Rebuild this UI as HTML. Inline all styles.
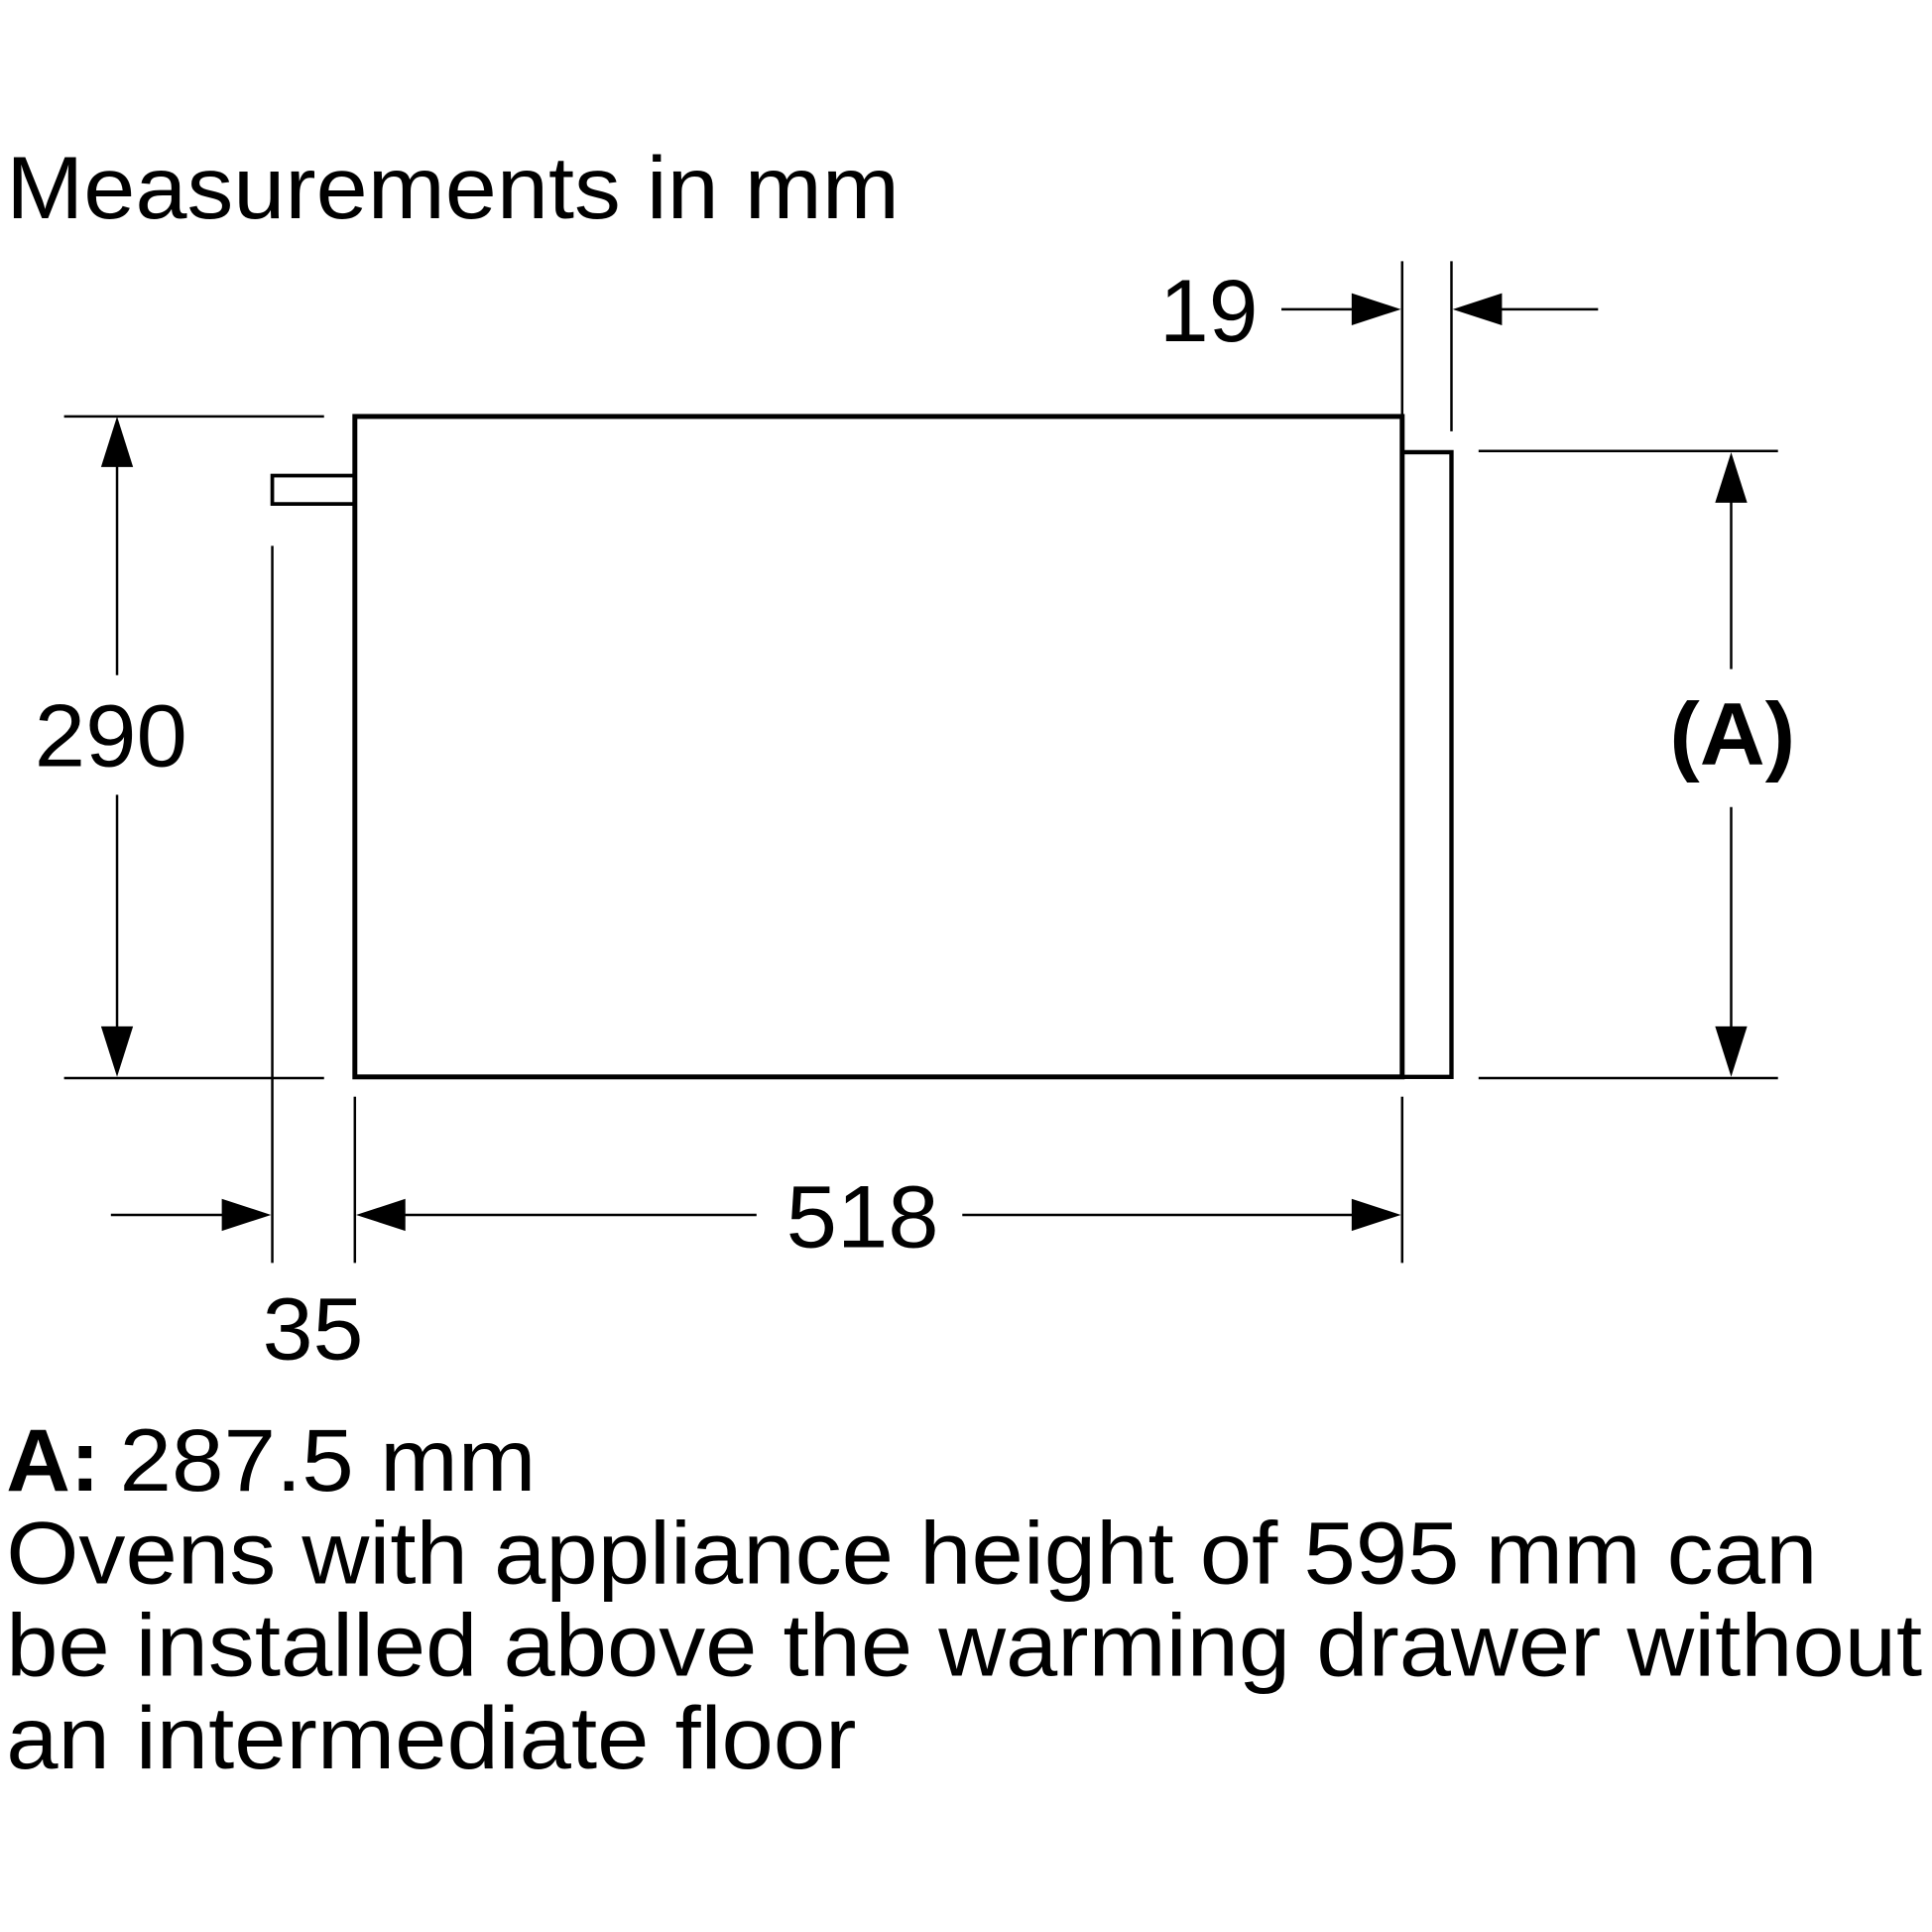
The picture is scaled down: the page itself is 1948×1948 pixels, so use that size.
<!DOCTYPE html>
<html><head><meta charset="utf-8"><style>html,body{margin:0;padding:0;background:#fff}svg{display:block}</style></head>
<body>
<svg width="1948" height="1948" viewBox="0 0 1568 1568" xmlns="http://www.w3.org/2000/svg" font-family="Liberation Sans, Arial, sans-serif" fill="#000">
<g font-size="72">
<text x="5" y="177" textLength="725" lengthAdjust="spacingAndGlyphs">Measurements in mm</text>
<text x="941" y="277" textLength="80" lengthAdjust="spacingAndGlyphs">19</text>
<text x="28" y="622" textLength="124" lengthAdjust="spacingAndGlyphs">290</text>
<text x="1355" y="620" textLength="102" lengthAdjust="spacingAndGlyphs" font-weight="bold">(A)</text>
<text x="638" y="1012" textLength="124" lengthAdjust="spacingAndGlyphs">518</text>
<text x="213" y="1103" textLength="82" lengthAdjust="spacingAndGlyphs">35</text>
<text x="5" y="1210" font-weight="bold" textLength="76" lengthAdjust="spacingAndGlyphs">A:</text>
<text x="97" y="1210" textLength="338" lengthAdjust="spacingAndGlyphs">287.5 mm</text>
<text x="5" y="1285" textLength="1470" lengthAdjust="spacingAndGlyphs">Ovens with appliance height of 595 mm can</text>
<text x="5" y="1360" textLength="1555" lengthAdjust="spacingAndGlyphs">be installed above the warming drawer without</text>
<text x="5" y="1435" textLength="690" lengthAdjust="spacingAndGlyphs">an intermediate floor</text>
</g>
<g fill="none" stroke="#000">
<rect x="288" y="338" width="850" height="536" stroke-width="4"/>
<rect x="1138" y="367" width="40" height="507" stroke-width="3.5"/>
<rect x="221" y="386" width="67" height="23" stroke-width="3"/>
<g stroke-width="2">
<line x1="221" y1="443" x2="221" y2="1025"/>
<line x1="52" y1="338" x2="263" y2="338"/>
<line x1="52" y1="875" x2="263" y2="875"/>
<line x1="95" y1="370" x2="95" y2="548"/>
<line x1="95" y1="645" x2="95" y2="840"/>
<line x1="1200" y1="366" x2="1443" y2="366"/>
<line x1="1200" y1="875" x2="1443" y2="875"/>
<line x1="1405" y1="400" x2="1405" y2="543"/>
<line x1="1405" y1="655" x2="1405" y2="840"/>
<line x1="1138" y1="212" x2="1138" y2="348"/>
<line x1="1178" y1="212" x2="1178" y2="350"/>
<line x1="1040" y1="251" x2="1100" y2="251"/>
<line x1="1215" y1="251" x2="1297" y2="251"/>
<line x1="288" y1="890" x2="288" y2="1025"/>
<line x1="1138" y1="890" x2="1138" y2="1025"/>
<line x1="320" y1="986" x2="614" y2="986"/>
<line x1="781" y1="986" x2="1100" y2="986"/>
<line x1="90" y1="986" x2="185" y2="986"/>
</g>
</g>
<g>
<polygon points="95,338 82,379 108,379"/>
<polygon points="95,874 82,833 108,833"/>
<polygon points="1405,367 1392,408 1418,408"/>
<polygon points="1405,874 1392,833 1418,833"/>
<polygon points="1137,251 1097,238 1097,264"/>
<polygon points="1179,251 1219,238 1219,264"/>
<polygon points="289,986 329,973 329,999"/>
<polygon points="1137,986 1097,973 1097,999"/>
<polygon points="220,986 180,973 180,999"/>
</g>
</svg>
</body></html>
